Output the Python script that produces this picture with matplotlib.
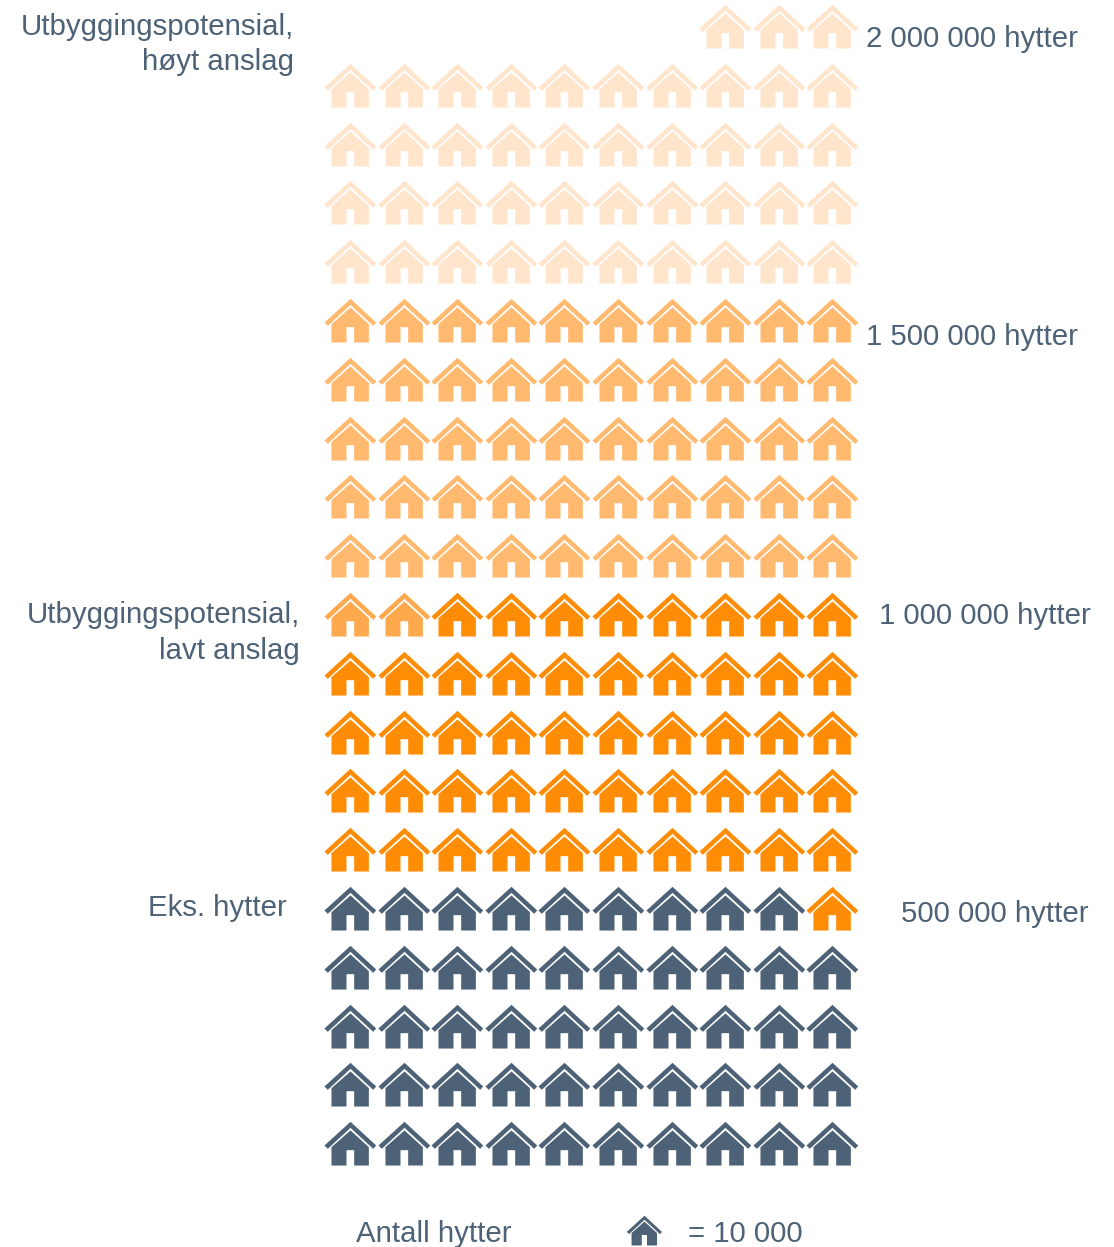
#!/usr/bin/env python3
import matplotlib
matplotlib.use('Agg')
import matplotlib.pyplot as plt
import numpy as np
from matplotlib.path import Path

# husker per rad, nederst til overst (en hytte = 10 000)
eks_hytter = [10, 10, 10, 10, 9, 0, 0, 0, 0, 0, 0, 0, 0, 0, 0, 0, 0, 0, 0, 0]
lavt_anslag = [0, 0, 0, 0, 1, 10, 10, 10, 10, 8, 0, 0, 0, 0, 0, 0, 0, 0, 0, 0]
hoyt_overgang = [0, 0, 0, 0, 0, 0, 0, 0, 0, 2, 0, 0, 0, 0, 0, 0, 0, 0, 0, 0]
hoyt_anslag = [0, 0, 0, 0, 0, 0, 0, 0, 0, 0, 10, 10, 10, 10, 10, 0, 0, 0, 0, 0]
hoyt_maks = [0, 0, 0, 0, 0, 0, 0, 0, 0, 0, 0, 0, 0, 0, 0, 10, 10, 10, 10, 3]

DARK = '#4d6276'
ORANGE = '#ff8c05'
MID = '#ffa94f'
LIGHT = '#ffba70'
PALE = '#ffe5cc'

W, H = 1114, 1247
fig = plt.figure(figsize=(W / 100, H / 100), dpi=100)
ax = fig.add_axes([0, 0, 1, 1])
ax.set_xlim(0, W)
ax.set_ylim(H, 0)
ax.axis('off')

plt.rcParams['font.family'] = ['Liberation Sans', 'DejaVu Sans']

# hytte-ikonet, tak og kropp (y opp)
cx, cy = 95, 102
roof = [(17, 108), (95, 37), (172, 108), (163, 118), (95, 55), (27, 118), (17, 108)]
body = [(38, 113), (95, 63), (150, 113), (150, 168), (106, 168), (106, 122),
        (83, 122), (83, 168), (38, 168), (38, 113)]
verts = []
codes = []
for poly in (roof, body):
    verts += [((x - cx) / 78.0, -(y - cy) / 78.0) for x, y in poly]
    codes += [Path.MOVETO] + [Path.LINETO] * (len(poly) - 2) + [Path.CLOSEPOLY]
house = Path(verts, codes)

COL_X0, COL_DX = 350, 53.6
ROW_Y0, ROW_DY = 1143.2, 58.8
SIZE = 37.5 ** 2


def draw_row_segment(counts, start, color):
    for row, n in enumerate(counts):
        if n == 0:
            continue
        cols = np.arange(start[row], start[row] + n)
        xs = COL_X0 + cols * COL_DX
        ys = np.full(n, ROW_Y0 - row * ROW_DY)
        ax.scatter(xs, ys, s=SIZE, marker=house, color=color, linewidths=0)
        start[row] += n


start = [0] * 20
start[19] = 7
for counts, color in [(eks_hytter, DARK), (hoyt_overgang, MID), (lavt_anslag, ORANGE),
                      (hoyt_anslag, LIGHT), (hoyt_maks, PALE)]:
    draw_row_segment(counts, start, color)

txt = dict(fontsize=21.2, color=DARK, va='center')
ax.text(294, 27, 'Utbyggingspotensial,', ha='right', **txt)
ax.text(294, 62, 'høyt anslag', ha='right', **txt)
ax.text(300, 615, 'Utbyggingspotensial,', ha='right', **txt)
ax.text(300, 651, 'lavt anslag', ha='right', **txt)
ax.text(287, 908, 'Eks. hytter', ha='right', **txt)

ax.text(866, 39, '2 000 000 hytter', ha='left', **txt)
ax.text(866, 337, '1 500 000 hytter', ha='left', **txt)
ax.text(879, 616, '1 000 000 hytter', ha='left', **txt)
ax.text(901, 914, '500 000 hytter', ha='left', **txt)

ax.text(356, 1234, 'Antall hytter', ha='left', **txt)
ax.scatter([644], [1229.5], s=25.5 ** 2, marker=house, color=DARK, linewidths=0)
ax.text(688, 1234, '= 10 000', ha='left', **txt)

fig.savefig('out.png', dpi=100, facecolor='white')
plt.close(fig)
